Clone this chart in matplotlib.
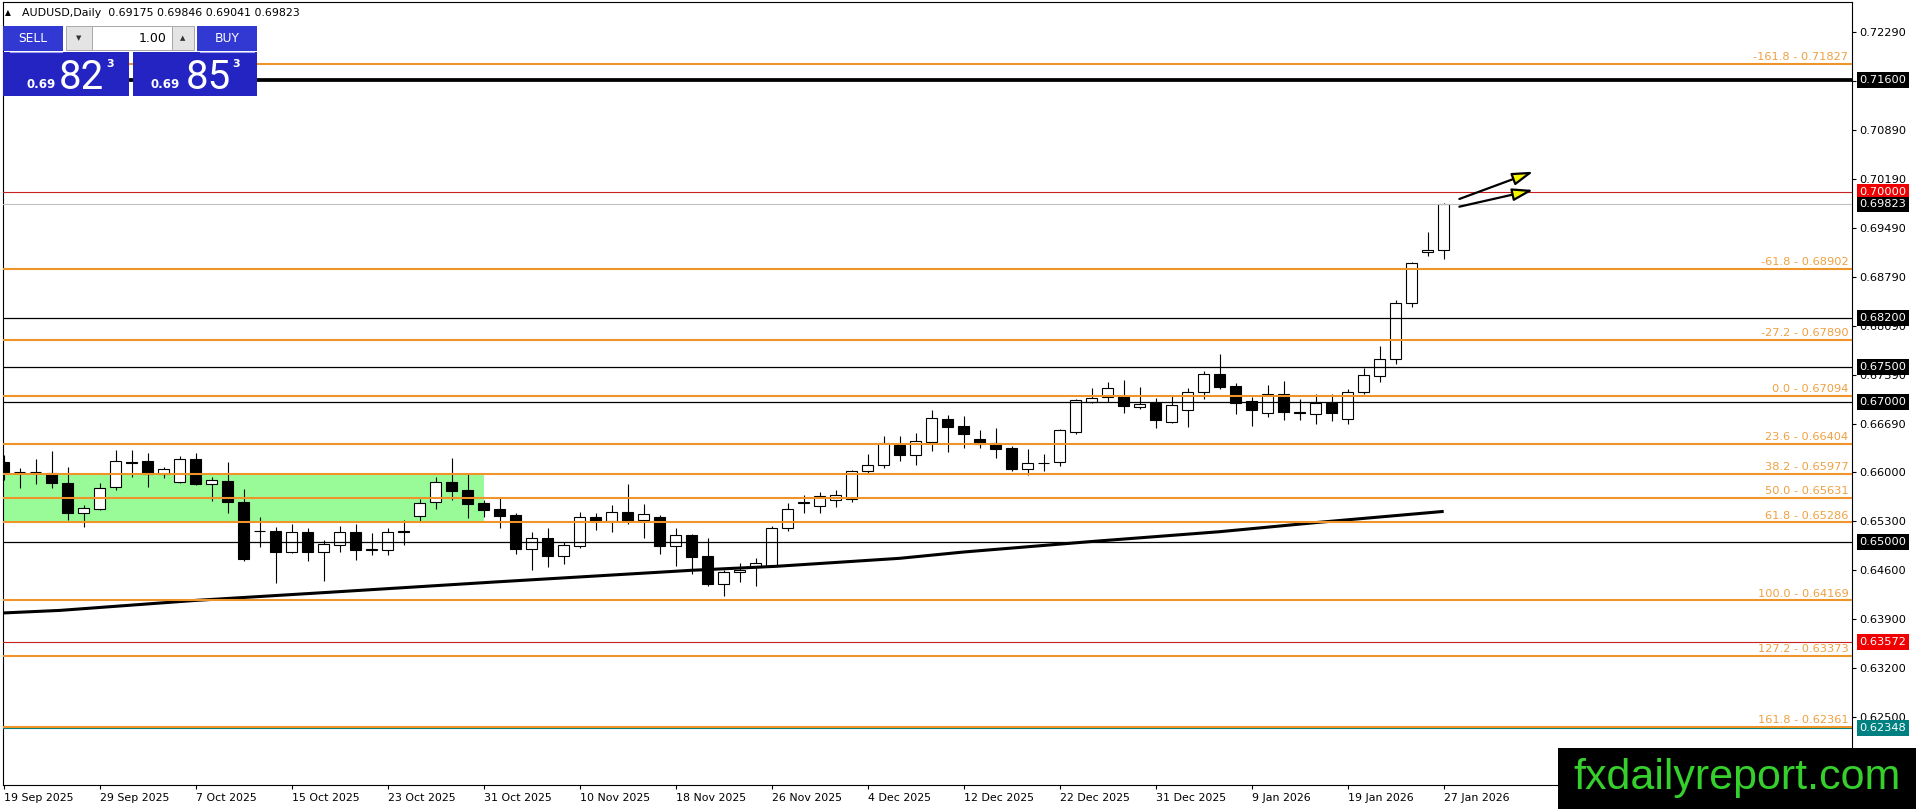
import numpy as np
import matplotlib
matplotlib.use('Agg')
import matplotlib.pyplot as plt
import matplotlib.transforms as mtransforms
from matplotlib.patches import Rectangle

plt.rcParams['font.family'] = ['DejaVu Sans']

W, H = 1916, 809

# daily candles, index 0 = 19 Sep 2025, index 90 = 27 Jan 2026
opens = [0.66141, 0.66008, 0.66003, 0.65984, 0.65841, 0.65411, 0.65468, 0.65783, 0.66151, 0.66156,
         0.65974, 0.65864, 0.66184, 0.65826, 0.65874, 0.65573, 0.65162, 0.65158, 0.64862, 0.65139,
         0.64862, 0.64957, 0.65139, 0.64895, 0.64895, 0.65143, 0.65377, 0.65568, 0.65860, 0.65745,
         0.65554, 0.65468, 0.65387, 0.64909, 0.65053, 0.64809, 0.64943, 0.65363, 0.65306, 0.65425,
         0.65315, 0.65353, 0.64947, 0.65096, 0.64800, 0.64408, 0.64575, 0.64647, 0.64656, 0.65200,
         0.65560, 0.65520, 0.65600, 0.65620, 0.66016, 0.66097, 0.66382, 0.66249, 0.66430, 0.66763,
         0.66653, 0.66477, 0.66420, 0.66344, 0.66050, 0.66130, 0.66145, 0.66577, 0.67005, 0.67076,
         0.67081, 0.66934, 0.66981, 0.66715, 0.66891, 0.67143, 0.67395, 0.67224, 0.67010, 0.66848,
         0.67119, 0.66858, 0.66834, 0.66991, 0.66758, 0.67143, 0.67376, 0.67618, 0.68417, 0.69144,
         0.69175]
highs = [0.66247, 0.66055, 0.66184, 0.66304, 0.66070, 0.65530, 0.65841, 0.66318, 0.66318, 0.66270,
         0.66079, 0.66232, 0.66270, 0.65927, 0.66146, 0.65755, 0.65353, 0.65220, 0.65253, 0.65196,
         0.65038, 0.65229, 0.65267, 0.65134, 0.65205, 0.65315, 0.65611, 0.65927, 0.66199, 0.65974,
         0.65602, 0.65650, 0.65420, 0.65148, 0.65210, 0.65005, 0.65425, 0.65411, 0.65530, 0.65826,
         0.65540, 0.65387, 0.65210, 0.65124, 0.65053, 0.64599, 0.64704, 0.64780, 0.65229, 0.65560,
         0.65680, 0.65720, 0.65740, 0.66030, 0.66263, 0.66511, 0.66511, 0.66563, 0.66881, 0.66810,
         0.66796, 0.66596, 0.66634, 0.66368, 0.66335, 0.66263, 0.66620, 0.67048, 0.67209, 0.67281,
         0.67314, 0.67214, 0.67053, 0.67081, 0.67205, 0.67438, 0.67690, 0.67276, 0.67072, 0.67252,
         0.67295, 0.67048, 0.67119, 0.67119, 0.67190, 0.67490, 0.67808, 0.68464, 0.69006, 0.69434,
         0.69846]
lows = [0.65888, 0.65769, 0.65826, 0.65769, 0.65315, 0.65220, 0.65458, 0.65745, 0.65927, 0.65793,
        0.65912, 0.65850, 0.65812, 0.65592, 0.65420, 0.64733, 0.64933, 0.64417, 0.64847, 0.64733,
        0.64446, 0.64862, 0.64752, 0.64814, 0.64814, 0.64957, 0.65306, 0.65468, 0.65602, 0.65349,
        0.65363, 0.65196, 0.64838, 0.64608, 0.64647, 0.64685, 0.64919, 0.65172, 0.65148, 0.65257,
        0.65067, 0.64838, 0.64656, 0.64542, 0.64374, 0.64231, 0.64432, 0.64374, 0.64647, 0.65160,
        0.65420, 0.65420, 0.65500, 0.65580, 0.65988, 0.66059, 0.66159, 0.66097, 0.66301, 0.66287,
        0.66349, 0.66344, 0.66202, 0.66016, 0.65964, 0.66016, 0.66092, 0.66544, 0.66991, 0.66995,
        0.66842, 0.66905, 0.66629, 0.66705, 0.66644, 0.67048, 0.67190, 0.66824, 0.66658, 0.66786,
        0.66739, 0.66739, 0.66691, 0.66729, 0.66691, 0.67110, 0.67286, 0.67538, 0.68355, 0.69082,
        0.69041]
closes = [0.65998, 0.66003, 0.66008, 0.65841, 0.65411, 0.65482, 0.65778, 0.66156, 0.66137, 0.65970,
          0.66041, 0.66184, 0.65826, 0.65884, 0.65568, 0.64766, 0.65167, 0.64862, 0.65139, 0.64862,
          0.64981, 0.65139, 0.64895, 0.64900, 0.65139, 0.65153, 0.65554, 0.65855, 0.65736, 0.65544,
          0.65458, 0.65373, 0.64909, 0.65067, 0.64804, 0.64967, 0.65363, 0.65306, 0.65425, 0.65306,
          0.65396, 0.64947, 0.65096, 0.64790, 0.64408, 0.64575, 0.64608, 0.64704, 0.65196, 0.65480,
          0.65570, 0.65660, 0.65680, 0.66016, 0.66106, 0.66420, 0.66249, 0.66439, 0.66777, 0.66644,
          0.66539, 0.66396, 0.66330, 0.66050, 0.66130, 0.66135, 0.66596, 0.67034, 0.67053, 0.67205,
          0.66938, 0.66967, 0.66748, 0.66962, 0.67148, 0.67395, 0.67214, 0.66991, 0.66891, 0.67119,
          0.66853, 0.66848, 0.66986, 0.66844, 0.67143, 0.67381, 0.67618, 0.68417, 0.68987, 0.69173,
          0.69823]

date_ticks = list(range(0, 91, 6))
date_labels = ['19 Sep 2025', '29 Sep 2025', '7 Oct 2025', '15 Oct 2025', '23 Oct 2025',
               '31 Oct 2025', '10 Nov 2025', '18 Nov 2025', '26 Nov 2025', '4 Dec 2025',
               '12 Dec 2025', '22 Dec 2025', '31 Dec 2025', '9 Jan 2026', '19 Jan 2026',
               '27 Jan 2026']

# moving average
ma_x = [0, 3.5, 12, 20, 30.7, 43, 48.3, 56, 60, 68, 76, 82, 90]
ma_y = [0.63990, 0.64026, 0.64169, 0.64280, 0.64432, 0.64599, 0.64656, 0.64770, 0.64860,
        0.65010, 0.65150, 0.65280, 0.65440]

fib_names = ['-161.8', '-61.8', '-27.2', '0.0', '23.6', '38.2', '50.0', '61.8', '100.0', '127.2', '161.8']
fib_levels = [0.71827, 0.68902, 0.67890, 0.67094, 0.66404, 0.65977, 0.65631, 0.65286,
              0.64169, 0.63373, 0.62361]

black_levels = [0.68200, 0.67500, 0.67000, 0.65000]
thick_level = 0.71600
red_levels = [0.70000, 0.63572]
bid_level = 0.69823
teal_level = 0.62348

box_levels = [0.71600, 0.70000, 0.69823, 0.68200, 0.67500, 0.67000, 0.65000, 0.63572, 0.62348]
box_colors = ['black', '#F00000', 'black', 'black', 'black', 'black', 'black', '#F00000', '#008080']

y_ticks = [0.72290, 0.71590, 0.70890, 0.70190, 0.69490, 0.68790, 0.68090, 0.67390, 0.66690,
           0.66000, 0.65300, 0.64600, 0.63900, 0.63200, 0.62500]

zone_x = (-1.0, 30.0)
zone_y = (0.6529, 0.6598)

arrow_tails = [(90.98, 0.69901), (90.98, 0.69791)]
arrow_tips = [(95.6, 0.70291), (95.6, 0.70030)]

ORANGE = '#EE9428'

fig = plt.figure(figsize=(W / 100, H / 100), dpi=100)
fig.patch.set_facecolor('white')
ax = fig.add_axes([3 / W, 1 - 785 / H, 1849 / W, 783 / H])
ax.set_xlim(-0.04, 115.52)
ax.set_ylim(0.61533, 0.72714)

# green zone
ax.add_patch(Rectangle((zone_x[0], zone_y[0]), zone_x[1] - zone_x[0], zone_y[1] - zone_y[0],
                       facecolor='#98FB98', edgecolor='none', zorder=1))

# candles
x = np.arange(len(opens))
o = np.array(opens); c = np.array(closes)
ax.vlines(x, lows, highs, color='black', lw=0.8, zorder=2)
body_bottom = np.minimum(o, c)
body_h = np.abs(c - o)
fc = ['white' if cc >= oo else 'black' for oo, cc in zip(o, c)]
ax.bar(x, body_h, bottom=body_bottom, width=0.72, color=fc, edgecolor='black', linewidth=0.8, zorder=3)

# moving average
ax.plot(ma_x, ma_y, color='black', lw=2.2, zorder=3.5, solid_capstyle='butt')

# horizontal levels
ax.axhline(teal_level, color='#008080', lw=0.8, zorder=4)
for lv in black_levels:
    ax.axhline(lv, color='black', lw=0.9, zorder=4)
ax.axhline(thick_level, color='black', lw=2.7, zorder=4)
for lv in red_levels:
    ax.axhline(lv, color='#C82020', lw=0.8, zorder=4)
ax.axhline(bid_level, color='#C0C0C0', lw=0.8, zorder=4)

blend = mtransforms.blended_transform_factory(ax.transAxes, ax.transData)
for name, lv in zip(fib_names, fib_levels):
    ax.axhline(lv, color=ORANGE, lw=1.5, zorder=4.5)
    ax.annotate(f'{name} - {lv:.5f}', xy=(0.998, lv), xycoords=blend, xytext=(0, 1.2),
                textcoords='offset points', ha='right', va='bottom', color='#F0A040',
                fontsize=8.2, zorder=5)

# arrows
for t0, t1 in zip(arrow_tails, arrow_tips):
    ax.annotate('', xy=t1, xytext=t0,
                arrowprops=dict(arrowstyle='-|>,head_length=1.25,head_width=0.38',
                                fc='#F5F500', ec='black', lw=1.6, shrinkA=0, shrinkB=0),
                zorder=6)

# axes styling
for s in ax.spines.values():
    s.set_linewidth(0.8)
    s.set_color('black')
ax.yaxis.tick_right()
ax.set_yticks(y_ticks)
ax.set_yticklabels([f'{v:.5f}' for v in y_ticks])
ax.tick_params(axis='y', direction='out', length=3, width=0.8, pad=2.5, labelsize=8.2)
ax.set_xticks(date_ticks)
ax.set_xticklabels(date_labels)
ax.tick_params(axis='x', direction='out', length=3, width=0.8, pad=3, labelsize=7.9)
for lab in ax.get_xticklabels():
    lab.set_horizontalalignment('left')

# price boxes on the scale
for lv, col in zip(box_levels, box_colors):
    ax.annotate(f'{lv:.5f}', xy=(1.0, lv), xycoords=blend, xytext=(5.5, 0),
                textcoords='offset points', ha='left', va='center', color='white',
                fontsize=8.2, annotation_clip=False, zorder=10,
                bbox=dict(boxstyle='square,pad=0.24', fc=col, ec='none'))

# overlay in pixel coordinates for panel / header / watermark
ov = fig.add_axes([0, 0, 1, 1], zorder=20)
ov.set_xlim(0, W)
ov.set_ylim(H, 0)
ov.axis('off')
ov.patch.set_alpha(0)

ov.text(5, 13, '\u25B2', fontsize=5.5, va='center', ha='left')
ov.text(22, 13, 'AUDUSD,Daily  0.69175 0.69846 0.69041 0.69823', fontsize=7.9, va='center', ha='left')

BTN = '#3238D2'
BIG = '#2424C2'
ov.add_patch(Rectangle((3, 26), 60, 25, fc=BTN, ec='none'))
ov.add_patch(Rectangle((197, 26), 60, 25, fc=BTN, ec='none'))
ov.add_patch(Rectangle((66, 26), 26, 24, fc='#E4E4E4', ec='#A8A8A8', lw=0.7))
ov.add_patch(Rectangle((92, 26), 80, 24, fc='white', ec='#A8A8A8', lw=0.7))
ov.add_patch(Rectangle((172, 26), 22, 24, fc='#E4E4E4', ec='#A8A8A8', lw=0.7))
ov.add_patch(Rectangle((3, 52), 126, 44, fc=BIG, ec='none'))
ov.add_patch(Rectangle((133, 52), 124, 44, fc=BIG, ec='none'))
ov.plot([10, 62], [51.5, 51.5], color='#9FA3EE', lw=0.8)
ov.plot([200, 254], [51.5, 51.5], color='#9FA3EE', lw=0.8)

ov.text(33, 38.5, 'SELL', color='white', fontsize=8.8, ha='center', va='center')
ov.text(227, 38.5, 'BUY', color='white', fontsize=8.8, ha='center', va='center')
ov.text(79, 38.5, '\u25BC', color='#333333', fontsize=5, ha='center', va='center')
ov.text(183, 38.5, '\u25B2', color='#333333', fontsize=5, ha='center', va='center')
ov.text(167, 38.5, '1.00', color='black', fontsize=9, ha='right', va='center')

ov.text(27, 88, '0.69', color='white', fontsize=8.5, fontweight='bold', ha='left', va='baseline')
ov.text(59, 89, '82', color='white', fontsize=29, family='Roboto', ha='left', va='baseline')
ov.text(106, 67, '3', color='white', fontsize=8, fontweight='bold', ha='left', va='baseline')
ov.text(151, 88, '0.69', color='white', fontsize=8.5, fontweight='bold', ha='left', va='baseline')
ov.text(186, 89, '85', color='white', fontsize=29, family='Roboto', ha='left', va='baseline')
ov.text(232, 67, '3', color='white', fontsize=8, fontweight='bold', ha='left', va='baseline')

# watermark
ov.add_patch(Rectangle((1558, 748), 358, 61, fc='black', ec='none'))
ov.text(1737, 778, 'fxdailyreport.com', color='#36D02C', fontsize=31,
        family='Liberation Sans', ha='center', va='center')

fig.savefig('out.png', dpi=100)
